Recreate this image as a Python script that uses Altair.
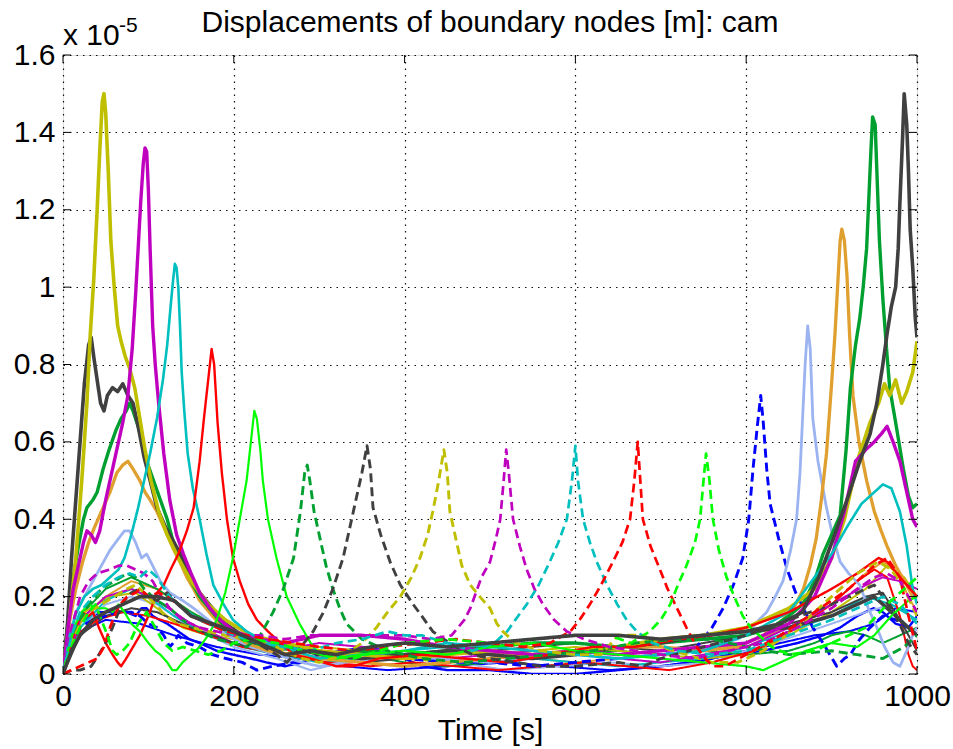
import altair as alt
import pandas as pd

# ---------------- data (time [s], displacement [x 1e-5 m]) ----------------
X_TICKS = [0, 200, 400, 600, 800, 1000]
Y_TICKS = [0, 0.2, 0.4, 0.6, 0.8, 1.0, 1.2, 1.4, 1.6]

B1 = [(0,0),(5,0.07),(10,0.11),(16,0.13),(25,0.14),(35,0.15),(43,0.16),(55,0.16),(65,0.16),(74,0.16),(85,0.15),(92,0.17),(98,0.17),(105,0.15),(113,0.14),(122,0.13),(135,0.11),(148,0.09),(160,0.08),(180,0.06),(199,0.05),(220,0.04),(238,0.03),(260,0.02),(280,0.03),(300,0.05),(330,0.06),(350,0.07),(380,0.06),(400,0.04),(420,0.02),(450,0.01),(500,0.01),(550,0.0),(600,0.0),(650,0.01),(700,0.02),(740,0.03),(780,0.05),(820,0.06),(860,0.08),(890,0.1),(910,0.12),(930,0.15),(949,0.17),(960,0.16),(975,0.13),(990,0.12),(1000,0.15)]
B3 = [(0,0),(20,0.11),(50,0.14),(90,0.13),(130,0.1),(180,0.07),(230,0.05),(280,0.04),(330,0.02),(380,0.01),(450,0.02),(520,0.03),(580,0.02),(640,0.01),(700,0.02),(760,0.04),(820,0.07),(880,0.1),(920,0.11),(950,0.13),(975,0.17),(1000,0.16)]
LB2 = [(0,0),(20,0.12),(50,0.18),(80,0.2),(110,0.18),(150,0.12),(200,0.07),(250,0.04),(290,0.01),(330,0.03),(400,0.05),(460,0.03),(520,0.01),(580,0.02),(640,0.03),(700,0.02),(760,0.03),(800,0.06),(860,0.1),(900,0.13),(940,0.16),(970,0.18),(1000,0.14)]
O2 = [(0,0),(20,0.14),(50,0.2),(80,0.24),(110,0.22),(150,0.16),(200,0.1),(250,0.07),(300,0.05),(350,0.04),(400,0.05),(450,0.06),(500,0.05),(550,0.04),(600,0.03),(650,0.04),(700,0.05),(750,0.06),(800,0.08),(850,0.12),(900,0.18),(940,0.26),(960,0.29),(975,0.27),(990,0.2),(1000,0.16)]
G3 = [(0,0),(20,0.15),(50,0.22),(80,0.25),(110,0.22),(150,0.16),(200,0.1),(250,0.07),(300,0.06),(350,0.05),(400,0.03),(450,0.02),(500,0.03),(550,0.04),(600,0.05),(650,0.06),(700,0.05),(750,0.06),(800,0.05),(850,0.06),(880,0.08),(900,0.1),(920,0.11),(940,0.1),(960,0.08),(980,0.1),(1000,0.12)]
Y3 = [(0,0),(25,0.16),(55,0.2),(85,0.21),(110,0.17),(140,0.12),(170,0.1),(200,0.09),(250,0.08),(300,0.07),(350,0.06),(400,0.04),(450,0.03),(500,0.04),(550,0.06),(600,0.07),(650,0.06),(700,0.05),(750,0.04),(800,0.05),(850,0.1),(900,0.16),(940,0.22),(965,0.28),(985,0.25),(1000,0.2)]
C3 = [(0,0),(20,0.12),(50,0.19),(80,0.22),(100,0.2),(130,0.15),(170,0.1),(210,0.07),(250,0.05),(300,0.03),(350,0.04),(400,0.06),(450,0.07),(500,0.05),(550,0.04),(600,0.03),(650,0.02),(700,0.03),(750,0.04),(800,0.07),(850,0.11),(900,0.15),(940,0.2),(970,0.18),(1000,0.14)]
R3 = [(0,0),(15,0.1),(40,0.14),(70,0.16),(100,0.15),(130,0.13),(170,0.1),(210,0.07),(260,0.05),(310,0.03),(360,0.02),(410,0.03),(460,0.02),(510,0.01),(560,0.02),(610,0.03),(660,0.02),(710,0.01),(760,0.03),(810,0.06),(860,0.12),(900,0.18),(930,0.24),(950,0.27),(965,0.25),(980,0.15),(990,0.05),(995,0.02),(1000,0.01)]
M3 = [(0,0),(20,0.14),(50,0.2),(80,0.22),(110,0.19),(150,0.13),(200,0.08),(250,0.06),(300,0.08),(350,0.07),(400,0.05),(450,0.04),(500,0.05),(550,0.06),(600,0.05),(650,0.04),(700,0.03),(750,0.05),(800,0.07),(850,0.12),(900,0.18),(940,0.23),(960,0.25),(980,0.24),(1000,0.22)]
K4 = [(0,0),(20,0.1),(50,0.15),(80,0.17),(110,0.16),(150,0.12),(200,0.08),(250,0.05),(300,0.04),(350,0.03),(400,0.04),(450,0.05),(500,0.06),(550,0.07),(600,0.08),(650,0.07),(700,0.06),(750,0.08),(800,0.1),(850,0.13),(900,0.16),(940,0.2),(960,0.21),(980,0.14),(995,0.08),(1000,0.06)]

K1 = [(0,0),(5,0.12),(10,0.3),(15,0.45),(20,0.6),(25,0.75),(30,0.85),(33,0.87),(36,0.82),(40,0.76),(44,0.7),(48,0.68),(52,0.72),(58,0.74),(64,0.73),(70,0.75),(76,0.72),(82,0.7),(88,0.64),(95,0.56),(102,0.5),(110,0.43),(120,0.38),(130,0.34),(140,0.3),(150,0.25),(160,0.21),(175,0.17),(190,0.13),(210,0.1),(240,0.08),(270,0.07),(300,0.05),(350,0.04),(400,0.05),(450,0.06),(500,0.05),(550,0.04),(600,0.05),(650,0.07),(700,0.08),(750,0.1),(800,0.11),(850,0.12),(900,0.15),(950,0.2),(975,0.15),(1000,0.1)]
Y1 = [(0,0),(8,0.15),(15,0.3),(22,0.5),(28,0.7),(32,0.88),(36,1.02),(40,1.2),(43,1.35),(46,1.48),(48,1.5),(50,1.45),(53,1.3),(56,1.12),(60,1.0),(64,0.9),(68,0.86),(73,0.82),(78,0.79),(84,0.74),(90,0.66),(96,0.58),(103,0.5),(112,0.42),(122,0.36),(135,0.3),(150,0.24),(170,0.18),(190,0.14),(220,0.1),(260,0.08),(300,0.06),(350,0.05),(400,0.04),(450,0.05),(500,0.06),(550,0.05),(600,0.06),(650,0.07),(700,0.09),(750,0.1),(800,0.12),(850,0.17),(880,0.22),(900,0.3),(915,0.4),(930,0.55),(945,0.65),(955,0.7),(962,0.75),(968,0.72),(975,0.76),(982,0.7),(988,0.73),(995,0.78),(1000,0.86)]
M1 = [(0,0),(6,0.12),(12,0.22),(18,0.28),(24,0.34),(28,0.37),(33,0.36),(38,0.34),(43,0.37),(50,0.45),(57,0.52),(63,0.58),(70,0.65),(76,0.72),(81,0.84),(85,0.98),(88,1.1),(91,1.22),(94,1.32),(96,1.36),(98,1.35),(100,1.25),(102,1.1),(105,0.9),(108,0.8),(112,0.7),(118,0.57),(125,0.45),(133,0.36),(141,0.31),(150,0.26),(160,0.21),(172,0.17),(184,0.14),(200,0.11),(230,0.09),(260,0.08),(300,0.1),(350,0.1),(400,0.09),(450,0.07),(500,0.06),(550,0.05),(600,0.06),(650,0.05),(700,0.06),(750,0.07),(800,0.08),(850,0.13),(880,0.2),(900,0.3),(915,0.42),(928,0.55),(940,0.58),(950,0.6),(958,0.62),(965,0.64),(972,0.6),(980,0.55),(988,0.47),(995,0.4),(1000,0.38)]
C1 = [(0,0),(8,0.1),(16,0.16),(25,0.2),(35,0.22),(45,0.23),(55,0.25),(65,0.27),(72,0.3),(80,0.36),(88,0.43),(95,0.5),(102,0.57),(110,0.66),(117,0.76),(122,0.85),(126,0.95),(129,1.02),(131,1.06),(133,1.05),(135,1.0),(137,0.9),(139,0.78),(142,0.68),(146,0.57),(152,0.48),(160,0.4),(168,0.31),(176,0.23),(188,0.18),(199,0.14),(215,0.11),(240,0.08),(270,0.06),(300,0.04),(350,0.05),(400,0.06),(450,0.08),(500,0.07),(550,0.06),(600,0.05),(650,0.04),(700,0.05),(750,0.06),(800,0.1),(850,0.16),(880,0.25),(900,0.31),(918,0.38),(935,0.44),(950,0.47),(960,0.49),(970,0.48),(980,0.42),(988,0.33),(995,0.22),(1000,0.18)]
R1 = [(0,0),(8,0.07),(15,0.12),(22,0.16),(30,0.15),(35,0.16),(42,0.12),(50,0.08),(58,0.05),(64,0.03),(68,0.02),(74,0.04),(82,0.07),(90,0.1),(100,0.15),(110,0.21),(118,0.23),(126,0.27),(135,0.31),(145,0.37),(153,0.43),(160,0.55),(165,0.66),(170,0.76),(174,0.84),(177,0.8),(181,0.65),(186,0.52),(192,0.4),(199,0.3),(207,0.24),(217,0.18),(227,0.14),(240,0.11),(255,0.08),(270,0.05),(290,0.04),(320,0.02),(340,0.02),(370,0.04),(420,0.05),(470,0.04),(520,0.03),(570,0.05),(620,0.07),(670,0.07),(720,0.09),(760,0.1),(800,0.12),(850,0.16),(900,0.22),(930,0.26),(955,0.3),(965,0.29),(980,0.25),(1000,0.2)]
G1 = [(0,0),(8,0.08),(15,0.13),(22,0.16),(30,0.18),(40,0.17),(50,0.17),(58,0.16),(65,0.18),(72,0.16),(80,0.13),(90,0.11),(100,0.08),(108,0.06),(114,0.05),(122,0.03),(128,0.01),(133,0.01),(140,0.03),(150,0.05),(160,0.07),(170,0.1),(180,0.14),(190,0.21),(199,0.3),(207,0.4),(215,0.5),(220,0.6),(224,0.68),(227,0.66),(231,0.58),(234,0.5),(240,0.4),(250,0.3),(262,0.2),(277,0.13),(290,0.08),(301,0.05),(320,0.04),(350,0.05),(400,0.06),(450,0.05),(500,0.07),(550,0.08),(600,0.06),(650,0.05),(700,0.04),(750,0.03),(800,0.02),(820,0.01),(840,0.03),(870,0.06),(900,0.08),(930,0.07),(950,0.1),(970,0.15),(990,0.19),(1000,0.2)]
DG1 = [(0,0),(10,0.08),(20,0.14),(30,0.18),(45,0.22),(60,0.24),(75,0.26),(85,0.25),(95,0.22),(110,0.19),(125,0.17),(140,0.14),(160,0.11),(180,0.09),(200,0.08),(215,0.07),(231,0.1),(246,0.16),(258,0.22),(270,0.3),(278,0.42),(283,0.52),(286,0.54),(289,0.5),(294,0.42),(301,0.35),(308,0.28),(316,0.22),(324,0.17),(332,0.13),(350,0.09),(380,0.06),(420,0.04),(470,0.03),(520,0.04),(570,0.05),(620,0.06),(670,0.08),(720,0.09),(760,0.09),(800,0.07),(850,0.05),(900,0.06),(930,0.05),(960,0.04),(985,0.07),(1000,0.1)]
K2 = [(0,0),(10,0.01),(20,0.01),(33,0.02),(42,0.05),(50,0.08),(58,0.12),(65,0.16),(72,0.19),(80,0.21),(90,0.22),(100,0.2),(110,0.19),(122,0.21),(135,0.18),(150,0.15),(170,0.13),(195,0.11),(215,0.09),(235,0.07),(250,0.05),(262,0.03),(275,0.06),(293,0.11),(305,0.16),(316,0.22),(328,0.3),(340,0.42),(350,0.52),(356,0.59),(360,0.53),(363,0.43),(372,0.36),(383,0.29),(395,0.23),(410,0.18),(420,0.15),(433,0.11),(446,0.09),(460,0.07),(480,0.05),(500,0.04),(530,0.03),(560,0.02),(600,0.02),(650,0.03),(680,0.02),(700,0.04),(750,0.07),(800,0.1),(850,0.14),(900,0.18),(930,0.21),(950,0.23),(960,0.2),(975,0.15),(990,0.08),(1000,0.05)]
Y2 = [(0,0),(10,0.08),(20,0.13),(30,0.16),(45,0.18),(60,0.2),(75,0.22),(85,0.23),(95,0.21),(108,0.18),(120,0.15),(135,0.13),(150,0.12),(170,0.11),(190,0.1),(220,0.09),(250,0.07),(280,0.04),(300,0.03),(330,0.05),(350,0.08),(367,0.12),(380,0.16),(395,0.2),(408,0.25),(418,0.3),(427,0.36),(433,0.42),(440,0.5),(446,0.58),(450,0.52),(453,0.42),(460,0.35),(467,0.28),(477,0.23),(488,0.2),(500,0.17),(508,0.13),(515,0.11),(530,0.08),(560,0.06),(600,0.05),(630,0.05),(650,0.1),(680,0.1),(700,0.07),(730,0.05),(760,0.03),(790,0.03),(820,0.06),(860,0.12),(900,0.2),(930,0.26),(955,0.29),(970,0.27),(985,0.22),(1000,0.15)]
M2 = [(0,0),(10,0.12),(20,0.2),(30,0.24),(40,0.26),(55,0.27),(65,0.28),(75,0.28),(85,0.27),(95,0.26),(105,0.24),(115,0.2),(125,0.17),(140,0.14),(160,0.12),(180,0.11),(200,0.1),(230,0.1),(260,0.09),(290,0.1),(320,0.1),(350,0.1),(380,0.1),(400,0.1),(430,0.09),(455,0.1),(470,0.14),(477,0.17),(490,0.25),(500,0.29),(507,0.35),(512,0.4),(516,0.5),(519,0.58),(522,0.52),(527,0.4),(535,0.33),(543,0.27),(552,0.22),(562,0.18),(575,0.14),(590,0.11),(610,0.09),(640,0.07),(670,0.06),(700,0.05),(740,0.04),(780,0.06),(820,0.08),(860,0.12),(900,0.17),(930,0.22),(950,0.25),(965,0.26),(980,0.24),(990,0.2),(1000,0.16)]
C2 = [(0,0),(10,0.1),(20,0.16),(35,0.2),(50,0.23),(65,0.25),(78,0.26),(90,0.25),(100,0.27),(110,0.25),(125,0.2),(140,0.17),(160,0.14),(180,0.12),(200,0.1),(230,0.08),(260,0.07),(290,0.06),(320,0.08),(350,0.09),(380,0.11),(400,0.1),(420,0.1),(450,0.08),(480,0.06),(505,0.08),(520,0.11),(533,0.15),(543,0.18),(557,0.23),(570,0.29),(580,0.34),(590,0.4),(596,0.5),(600,0.59),(603,0.5),(609,0.4),(617,0.34),(625,0.29),(637,0.23),(649,0.18),(660,0.14),(672,0.11),(690,0.08),(720,0.06),(760,0.05),(800,0.06),(850,0.1),(900,0.14),(930,0.17),(960,0.2),(980,0.18),(1000,0.13)]
R2 = [(0,0),(10,0.01),(20,0.02),(30,0.03),(40,0.04),(48,0.07),(55,0.12),(62,0.16),(67,0.18),(75,0.2),(85,0.21),(90,0.22),(100,0.2),(112,0.21),(122,0.2),(135,0.18),(150,0.15),(170,0.13),(190,0.11),(215,0.1),(240,0.09),(270,0.08),(300,0.07),(340,0.06),(380,0.07),(420,0.08),(460,0.09),(500,0.08),(540,0.07),(570,0.08),(594,0.11),(605,0.14),(617,0.18),(630,0.23),(644,0.29),(655,0.34),(664,0.4),(669,0.5),(673,0.6),(676,0.5),(679,0.4),(688,0.33),(699,0.27),(708,0.22),(719,0.17),(730,0.12),(742,0.07),(752,0.04),(761,0.02),(775,0.02),(800,0.05),(840,0.1),(880,0.16),(920,0.22),(950,0.28),(965,0.3),(980,0.25),(990,0.15),(1000,0.06)]
G2 = [(0,0),(10,0.07),(20,0.12),(30,0.16),(38,0.18),(45,0.14),(52,0.1),(58,0.06),(63,0.05),(70,0.06),(78,0.08),(88,0.13),(98,0.16),(108,0.12),(118,0.08),(128,0.06),(140,0.07),(155,0.06),(170,0.05),(185,0.06),(200,0.08),(220,0.09),(250,0.08),(280,0.06),(310,0.05),(340,0.04),(370,0.06),(400,0.08),(450,0.09),(500,0.08),(550,0.09),(600,0.1),(640,0.1),(665,0.08),(687,0.11),(700,0.14),(711,0.18),(720,0.23),(730,0.28),(740,0.34),(746,0.4),(750,0.5),(753,0.57),(757,0.5),(761,0.4),(768,0.32),(777,0.25),(786,0.2),(796,0.15),(805,0.12),(815,0.1),(830,0.07),(850,0.05),(880,0.06),(910,0.09),(940,0.12),(965,0.18),(985,0.22),(1000,0.25)]
B2 = [(0,0),(10,0.08),(20,0.12),(35,0.14),(50,0.15),(65,0.16),(80,0.16),(90,0.15),(100,0.13),(110,0.12),(118,0.1),(125,0.07),(129,0.08),(135,0.1),(145,0.08),(160,0.07),(175,0.05),(191,0.04),(210,0.03),(227,0.01),(245,0.02),(270,0.03),(300,0.05),(330,0.06),(360,0.05),(400,0.04),(450,0.03),(500,0.03),(550,0.02),(600,0.03),(650,0.04),(700,0.05),(730,0.06),(742,0.07),(760,0.12),(773,0.17),(785,0.23),(796,0.3),(803,0.4),(808,0.53),(813,0.64),(817,0.72),(820,0.65),(824,0.53),(828,0.44),(838,0.35),(848,0.27),(858,0.21),(867,0.17),(878,0.12),(890,0.08),(898,0.05),(906,0.02),(915,0.04),(922,0.05),(933,0.09),(945,0.12),(960,0.15),(975,0.14),(990,0.12),(1000,0.1)]
LB1 = [(0,0),(8,0.1),(15,0.16),(25,0.2),(35,0.24),(45,0.28),(55,0.32),(65,0.35),(72,0.37),(78,0.37),(85,0.34),(92,0.3),(98,0.31),(105,0.28),(114,0.24),(125,0.21),(140,0.19),(153,0.17),(170,0.14),(192,0.1),(220,0.07),(250,0.05),(280,0.03),(300,0.02),(330,0.03),(360,0.04),(400,0.05),(450,0.04),(500,0.03),(550,0.04),(600,0.05),(650,0.04),(700,0.05),(740,0.06),(770,0.08),(790,0.09),(804,0.11),(815,0.14),(824,0.16),(834,0.2),(843,0.24),(852,0.32),(859,0.4),(863,0.52),(866,0.66),(869,0.8),(872,0.9),(875,0.84),(878,0.66),(884,0.55),(894,0.43),(902,0.35),(910,0.29),(920,0.26),(933,0.23),(943,0.17),(953,0.12),(962,0.07),(972,0.03),(980,0.02),(988,0.06),(995,0.1),(1000,0.12)]
O1 = [(0,0),(4,0.08),(8,0.14),(15,0.22),(23,0.29),(30,0.34),(37,0.38),(45,0.42),(55,0.47),(63,0.52),(70,0.54),(76,0.55),(82,0.53),(90,0.5),(96,0.47),(102,0.45),(110,0.42),(116,0.39),(122,0.36),(130,0.32),(137,0.29),(145,0.25),(153,0.22),(160,0.19),(175,0.15),(192,0.11),(215,0.08),(240,0.06),(270,0.05),(300,0.04),(350,0.03),(400,0.02),(450,0.03),(500,0.04),(550,0.05),(600,0.06),(650,0.07),(700,0.07),(750,0.06),(790,0.07),(820,0.1),(843,0.14),(858,0.18),(867,0.22),(875,0.28),(882,0.35),(888,0.45),(894,0.57),(900,0.75),(904,0.88),(907,1.0),(910,1.12),(912,1.15),(915,1.12),(918,1.03),(921,0.88),(925,0.72),(932,0.6),(941,0.5),(950,0.42),(958,0.37),(965,0.33),(975,0.28),(988,0.23),(995,0.2),(1000,0.2)]
DG2 = [(0,0),(4,0.1),(8,0.18),(12,0.25),(18,0.33),(24,0.4),(28,0.43),(35,0.45),(40,0.47),(47,0.53),(54,0.58),(62,0.63),(68,0.66),(74,0.68),(78,0.7),(82,0.68),(88,0.64),(93,0.6),(98,0.55),(106,0.5),(114,0.45),(122,0.4),(128,0.35),(133,0.32),(140,0.29),(150,0.24),(160,0.2),(175,0.16),(190,0.12),(210,0.09),(240,0.07),(280,0.06),(320,0.05),(360,0.06),(400,0.05),(450,0.06),(500,0.07),(550,0.08),(600,0.08),(650,0.07),(700,0.08),(750,0.09),(800,0.1),(830,0.12),(850,0.15),(866,0.18),(880,0.24),(890,0.31),(900,0.36),(910,0.41),(917,0.58),(922,0.74),(928,0.85),(933,0.92),(937,1.0),(941,1.1),(944,1.25),(946,1.35),(948,1.44),(951,1.42),(953,1.3),(956,1.12),(960,0.97),(964,0.85),(968,0.74),(975,0.65),(984,0.53),(990,0.46),(995,0.43),(1000,0.44)]
K3 = [(0,0),(10,0.06),(20,0.1),(35,0.14),(50,0.16),(70,0.18),(90,0.2),(110,0.2),(130,0.19),(150,0.15),(175,0.13),(200,0.11),(230,0.08),(260,0.05),(290,0.06),(320,0.05),(360,0.07),(400,0.08),(450,0.07),(500,0.08),(550,0.09),(600,0.1),(650,0.1),(700,0.09),(750,0.1),(800,0.11),(840,0.13),(866,0.16),(885,0.25),(902,0.35),(918,0.45),(933,0.55),(945,0.62),(953,0.7),(960,0.8),(965,0.88),(970,0.95),(975,1.0),(978,1.1),(980,1.22),(983,1.38),(985,1.5),(988,1.42),(990,1.3),(992,1.15),(995,1.05),(998,0.92),(1000,0.87)]

SERIES = [
    ("b1", B1), ("b3", B3), ("lb2", LB2), ("o2", O2), ("g3", G3), ("y3", Y3),
    ("c3", C3), ("r3", R3), ("m3", M3), ("k4", K4),
    ("b2", B2), ("lb1", LB1), ("o1", O1), ("dg2", DG2), ("k1", K1),
    ("y1", Y1), ("m1", M1), ("c1", C1), ("r1", R1), ("g1", G1),
    ("dg1", DG1), ("k2", K2), ("y2", Y2), ("m2", M2), ("c2", C2),
    ("r2", R2), ("g2", G2), ("k3", K3),
]

TITLE = "Displacements of boundary nodes [m]: cam"
X_TITLE = "Time [s]"

# ---------------- styles ----------------
COL = {"b": "#0000FF", "lb": "#9BB3F0", "o": "#E0A030", "dg": "#00A030",
       "k": "#404040", "y": "#BFBF00", "m": "#BF00BF", "c": "#00BFBF",
       "r": "#FF0000", "g": "#00FF00"}
STYLE = {
    "b1": ("b", "solid", 2.4), "b3": ("b", "solid", 2.0), "lb2": ("lb", "solid", 2.0),
    "o2": ("o", "solid", 2.0), "g3": ("dg", "solid", 2.0), "y3": ("y", "solid", 2.0),
    "c3": ("c", "solid", 2.0), "r3": ("r", "solid", 2.0), "m3": ("m", "solid", 2.0),
    "k4": ("k", "solid", 2.0),
    "b2": ("b", "dashed", 2.9), "lb1": ("lb", "solid", 2.8), "o1": ("o", "solid", 3.3),
    "dg2": ("dg", "solid", 3.4), "k1": ("k", "solid", 3.6), "y1": ("y", "solid", 3.6),
    "m1": ("m", "solid", 3.4), "c1": ("c", "solid", 2.6), "r1": ("r", "solid", 2.4),
    "g1": ("g", "solid", 2.2), "dg1": ("dg", "dashed", 2.9), "k2": ("k", "dashed", 2.9),
    "y2": ("y", "dashed", 2.9), "m2": ("m", "dashed", 2.7), "c2": ("c", "dashed", 2.7),
    "r2": ("r", "dashed", 2.7), "g2": ("g", "dashed", 2.7), "k3": ("k", "solid", 3.6),
}

rows = []
for sid, pts in SERIES:
    c, d, w = STYLE[sid]
    for i, (t, v) in enumerate(pts):
        rows.append({"sid": sid, "i": i, "t": t, "v": v, "dash": d, "w": w})
df = pd.DataFrame(rows)

ids = [s for s, _ in SERIES]
colors = [COL[STYLE[s][0]] for s in ids]

FONT = "Liberation Sans"
W, H = 854, 619

x_scale = alt.Scale(domain=[0, 1000], nice=False, zero=False)
y_scale = alt.Scale(domain=[0, 1.6], nice=False, zero=False)

ax_x = alt.Axis(values=X_TICKS, title=X_TITLE, format="d", labelFontSize=30, labelFont=FONT,
                labelColor="black", titleFont=FONT, titleFontSize=30,
                titleFontWeight="normal", titleColor="black", ticks=False,
                domain=False, labelPadding=7, titleBaseline="alphabetic",
                titleY=65, gridColor="#111", gridDash=[1.5, 5], gridWidth=1.2,
                gridOpacity=1, labelFlush=False, labelOverlap=False)
ax_y = alt.Axis(values=Y_TICKS, title=" ", format=".1~f", labelFontSize=30,
                labelFont=FONT, labelColor="black", ticks=False, domain=False,
                labelPadding=8, gridColor="#111", gridDash=[1.5, 5], gridWidth=1.2,
                gridOpacity=1, labelFlush=False, labelOverlap=False)

lines = alt.Chart(df).mark_line(strokeJoin="round", clip=True).encode(
    x=alt.X("t:Q", scale=x_scale, axis=ax_x),
    y=alt.Y("v:Q", scale=y_scale, axis=ax_y),
    color=alt.Color("sid:N", scale=alt.Scale(domain=ids, range=colors), legend=None),
    strokeDash=alt.StrokeDash("dash:N", scale=alt.Scale(domain=["solid", "dashed"],
                                                        range=[[1, 0], [9, 5]]), legend=None),
    strokeWidth=alt.StrokeWidth("w:Q", scale=None, legend=None),
    order="i:Q",
)

xt = pd.DataFrame({"t": X_TICKS})
yt = pd.DataFrame({"v": Y_TICKS})
tick_b = alt.Chart(xt).mark_rule(color="black", strokeWidth=1).encode(
    x=alt.X("t:Q", scale=x_scale, axis=ax_x), y=alt.value(H), y2=alt.value(H - 8))
tick_t = alt.Chart(xt).mark_rule(color="black", strokeWidth=1).encode(
    x=alt.X("t:Q", scale=x_scale, axis=ax_x), y=alt.value(0), y2=alt.value(8))
tick_l = alt.Chart(yt).mark_rule(color="black", strokeWidth=1).encode(
    y=alt.Y("v:Q", scale=y_scale, axis=ax_y), x=alt.value(0), x2=alt.value(8))
tick_r = alt.Chart(yt).mark_rule(color="black", strokeWidth=1).encode(
    y=alt.Y("v:Q", scale=y_scale, axis=ax_y), x=alt.value(W), x2=alt.value(W - 8))

title_txt = alt.Chart(pd.DataFrame({"s": [TITLE]})).mark_text(
    font=FONT, fontSize=30, align="center", baseline="alphabetic", color="black"
).encode(text="s:N", x=alt.value(W / 2), y=alt.value(-23))
exp_base = alt.Chart(pd.DataFrame({"s": ["x 10"]})).mark_text(
    font=FONT, fontSize=30, align="left", baseline="alphabetic", color="black"
).encode(text="s:N", x=alt.value(0), y=alt.value(-10))
exp_sup = alt.Chart(pd.DataFrame({"s": ["-5"]})).mark_text(
    font=FONT, fontSize=21, align="left", baseline="alphabetic", color="black"
).encode(text="s:N", x=alt.value(56), y=alt.value(-23))

chart = alt.layer(lines, tick_b, tick_t, tick_l, tick_r, title_txt, exp_base, exp_sup).properties(
    width=W, height=H,
    padding={"left": 63, "top": 55, "right": 36, "bottom": 75},
    autosize=alt.AutoSizeParams(type="none"),
).configure_view(stroke="black", strokeWidth=1).configure(background="white")

chart.save("out.html", embed_options={"renderer": "svg", "actions": False})
